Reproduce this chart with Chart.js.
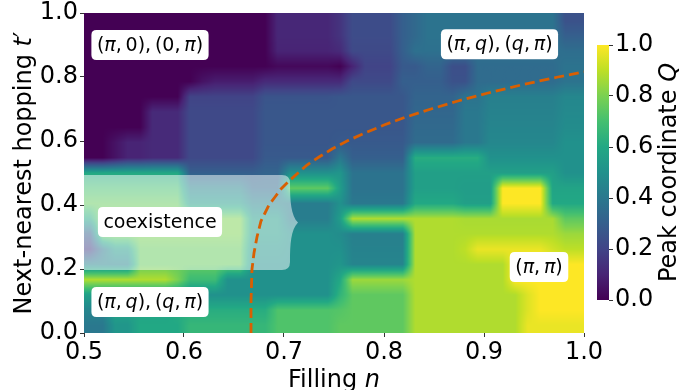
<!DOCTYPE html>
<html>
<head>
<meta charset="utf-8">
<script src="https://cdn.jsdelivr.net/npm/chart.js@4.4.1/dist/chart.umd.min.js"></script>
<style>
  html, body { margin: 0; padding: 0; background: #ffffff; }
  #wrap { position: relative; width: 689px; height: 390px; overflow: hidden; }
  #main { position: absolute; left: 0; top: 0; }
  #bar { position: absolute; left: 590px; top: 0; }
</style>
</head>
<body>
<div id="wrap">
  <canvas id="main" width="689" height="390"></canvas>
  <canvas id="bar" width="99" height="390"></canvas>
</div>
<script>
// Axis ranges and ticks
const fillingRange = [0.5, 1.0];
const hoppingRange = [0.0, 1.0];
const fillingTicks = [0.5, 0.6, 0.7, 0.8, 0.9, 1.0];
const hoppingTicks = [0.0, 0.2, 0.4, 0.6, 0.8, 1.0];
const colorTicks = [0.0, 0.2, 0.4, 0.6, 0.8, 1.0];

// Peak coordinate Q on the (n, t') grid; first row is t' = 1, last row is t' = 0,
// columns run from n = 0.5 to n = 1.0
const peakQ = [
  [0,0,0,0,0,0,0,0,0,0, 0,0,0,0,0,.11,.11,.11,.11,.11, .15,.23,.23,.23,.23,.30,.34,.38,.38,.38, .38,.38,.38,.38,.38,.38,.38,.38,.25,.25],
  [0,0,0,0,0,0,0,0,0,0, 0,0,0,0,0,.11,.11,.11,.11,.11, .15,.23,.23,.23,.23,.30,.34,.38,.38,.38, .38,.38,.38,.38,.38,.38,.38,.38,.30,.30],
  [0,0,0,0,0,0,0,0,0,0, 0,0,0,0,0,.10,.10,.10,.10,.10, .12,.22,.22,.22,.22,.30,.37,.37,.37,.37, .37,.37,.37,.37,.37,.37,.37,.37,.36,.36],
  [0,0,0,0,0,0,0,0,0,0, 0,0,0,0,0,.02,.02,.02,.02,.02, 0,.10,.20,.20,.20,.28,.28,.32,.32,.24, .24,.35,.35,.35,.35,.35,.35,.35,.38,.38],
  [0,0,0,0,0,0,0,0,0,.05, .08,.08,.08,.08,.12,.12,.12,.12,.12,.12, .12,.22,.22,.22,.22,.30,.30,.30,.30,.25, .25,.35,.35,.35,.35,.35,.35,.35,.38,.38],
  [0,0,0,0,0,0,0,0,.20,.20, .20,.20,.20,.20,.26,.26,.26,.26,.26,.26, .27,.27,.27,.27,.27,.27,.32,.32,.32,.32, .38,.38,.43,.43,.43,.43,.43,.43,.46,.46],
  [0,0,0,0,0,.12,.12,.12,.22,.22, .22,.22,.22,.22,.27,.27,.27,.27,.27,.27, .27,.27,.27,.27,.27,.27,.33,.33,.33,.33, .40,.40,.44,.44,.44,.44,.44,.44,.47,.47],
  [0,0,0,0,0,.12,.12,.12,.22,.22, .22,.22,.22,.22,.27,.27,.27,.27,.27,.27, .27,.27,.27,.27,.27,.27,.34,.34,.34,.34, .40,.40,.45,.45,.45,.45,.45,.45,.48,.48],
  [0,0,.05,.10,.10,.12,.12,.12,.22,.22, .22,.22,.22,.22,.27,.27,.27,.27,.27,.27, .28,.28,.28,.28,.28,.28,.35,.35,.35,.35, .40,.40,.46,.46,.46,.46,.46,.46,.50,.50],
  [0,0,.05,.10,.10,.12,.12,.12,.22,.22, .22,.22,.22,.22,.28,.28,.28,.28,.28,.28, .40,.30,.30,.30,.30,.30,.62,.62,.62,.62, .62,.62,.50,.50,.50,.50,.50,.50,.50,.50],
  [.60,.60,.60,.60,.60,.60,.60,.60,.30,.30, .30,.30,.30,.30,.32,.32,.50,.50,.50,.50, .52,.38,.38,.38,.38,.38,.56,.56,.56,.56, .56,.56,.56,.56,.56,.56,.56,.56,.50,.50],
  [.70,.70,.70,.70,.70,.70,.70,.70,.45,.45, .45,.45,.45,.35,.35,.35,.75,.75,.75,.75, .55,.38,.38,.38,.38,.38,.56,.56,.56,.56, .55,.55,.55,1,1,1,1,.58,.58,.58],
  [.76,.76,.76,.76,.76,.76,.76,.76,.55,.55, .55,.55,.55,.45,.45,.45,.42,.42,.42,.42, .50,.40,.40,.40,.40,.40,.60,.60,.60,.60, .56,.56,.56,1,1,1,1,.60,.60,.60],
  [.60,.80,.80,.80,.80,.80,.80,.80,.80,.80, .80,.80,.80,.55,.55,.55,.42,.42,.42,.42, .55,.88,.88,.88,.88,.88,.88,.88,.88,.88, .87,.87,.87,.87,.87,.87,.87,.87,.75,.75],
  [.30,.80,.80,.80,.80,.80,.80,.80,.80,.80, .80,.80,.80,.55,.55,.55,.50,.50,.50,.50, .48,.43,.43,.43,.43,.43,.88,.88,.88,.88, .88,.88,.88,.88,.88,.88,.88,.88,.85,.85],
  [.18,.40,.55,.55,.76,.76,.76,.76,.76,.76, .76,.76,.76,.52,.52,.52,.50,.50,.50,.50, .50,.44,.44,.44,.44,.44,.88,.88,.88,.88, .90,.97,.97,.97,.97,.97,.97,.93,.90,.90],
  [.45,.45,.45,.45,.76,.76,.76,.76,.76,.76, .76,.76,.76,.50,.50,.50,.50,.50,.50,.50, .52,.45,.45,.45,.45,.45,.88,.88,.88,.88, .88,.88,.88,.88,1,1,1,1,1,1],
  [.88,.88,.88,.88,.88,.88,.88,.80,.68,.68, .68,.50,.50,.50,.50,.50,.50,.50,.50,.50, .60,.85,.85,.85,.85,.85,.88,.88,.88,.88, .88,.88,.88,.88,1,1,1,1,1,1],
  [.56,.56,.56,.56,.56,.56,.56,.56,.50,.50, .50,.50,.50,.50,.50,.50,.50,.50,.50,.50, .65,.75,.75,.75,.75,.75,.88,.88,.88,.88, .88,.88,.88,.88,.88,.95,1,1,1,1],
  [.45,.45,.58,.58,.58,.58,.58,.62,.62,.62, .62,.62,.62,.62,.62,.72,.72,.72,.72,.72, .73,.75,.75,.75,.75,.75,.88,.88,.88,.88, .88,.88,.88,.88,.88,.95,1,1,1,1],
  [.40,.40,.52,.52,.60,.60,.60,.60,.66,.66, .66,.66,.66,.66,.66,.72,.72,.72,.72,.72, .75,.75,.75,.75,.75,.75,.88,.88,.88,.88, .88,.88,.88,.88,.88,.97,.97,.97,.97,.97]
];

// Phase boundary (dashed curve)
const boundaryN = [0.667, 0.667, 0.668, 0.670, 0.673, 0.677, 0.681, 0.685, 0.691, 0.697, 0.705, 0.714, 0.723, 0.735, 0.748, 0.763, 0.781, 0.800, 0.822, 0.847, 0.874, 0.904, 0.937, 0.974, 1.000];
const boundaryT = [0.000, 0.100, 0.200, 0.250, 0.300, 0.350, 0.375, 0.400, 0.425, 0.450, 0.475, 0.500, 0.525, 0.550, 0.575, 0.600, 0.625, 0.650, 0.675, 0.700, 0.725, 0.750, 0.775, 0.800, 0.816];

// Coexistence band in data units
const coexistence = { nLeft: 0.48, nRight: 0.706, nTip: 0.714, tBottom: 0.197, tTop: 0.494, tTip: 0.345 };

// Region annotations: [text, italic] runs, placed at (n, t')
const regionNotes = [
  { runs: [['(',0],['π',1],[',\u20090),\u2009(0,\u2009',0],['π',1],[')',0]], n: 0.566, t: 0.900 },
  { runs: [['(',0],['π',1],[',\u2009',0],['q',1],['),\u2009(',0],['q',1],[',\u2009',0],['π',1],[')',0]], n: 0.9155, t: 0.902 },
  { runs: [['coexistence',0]], n: 0.576, t: 0.347 },
  { runs: [['(',0],['π',1],[',\u2009',0],['q',1],['),\u2009(',0],['q',1],[',\u2009',0],['π',1],[')',0]], n: 0.566, t: 0.097 },
  { runs: [['(',0],['π',1],[',\u2009',0],['π',1],[')',0]], n: 0.955, t: 0.206 }
];

const FAMILY = '"DejaVu Sans", sans-serif';
const VIRIDIS = [[68,1,84],[72,36,117],[65,68,135],[53,95,141],[42,120,142],[33,145,140],[34,168,132],[68,191,112],[122,209,81],[189,223,38],[253,231,37]];

function viridis(v) {
  v = Math.min(1, Math.max(0, v));
  const p = v * 10, i = Math.min(9, Math.floor(p)), f = p - i;
  const a = VIRIDIS[i], b = VIRIDIS[i + 1];
  return [a[0] + (b[0] - a[0]) * f, a[1] + (b[1] - a[1]) * f, a[2] + (b[2] - a[2]) * f];
}

function fontOf(size, italic) { return (italic ? 'italic ' : '') + size + 'px ' + FAMILY; }
function runsWidth(ctx, runs, size) {
  let w = 0;
  for (const [t, it] of runs) { ctx.font = fontOf(size, it); w += ctx.measureText(t).width; }
  return w;
}
function drawRuns(ctx, runs, size, x, y) {
  let cx = x;
  ctx.textAlign = 'left';
  ctx.textBaseline = 'alphabetic';
  for (const [t, it] of runs) {
    ctx.font = fontOf(size, it);
    ctx.fillText(t, cx, y);
    cx += ctx.measureText(t).width;
  }
}
function roundRect(ctx, x, y, w, h, r) {
  ctx.beginPath();
  ctx.moveTo(x + r, y);
  ctx.lineTo(x + w - r, y); ctx.quadraticCurveTo(x + w, y, x + w, y + r);
  ctx.lineTo(x + w, y + h - r); ctx.quadraticCurveTo(x + w, y + h, x + w - r, y + h);
  ctx.lineTo(x + r, y + h); ctx.quadraticCurveTo(x, y + h, x, y + h - r);
  ctx.lineTo(x, y + r); ctx.quadraticCurveTo(x, y, x + r, y);
  ctx.closePath();
}

// Render the grid with bilinear interpolation of Q, then colour-map each pixel
let tileCache = null;
function renderTile(W, H) {
  if (tileCache && tileCache.width === W && tileCache.height === H) return tileCache;
  const rows = peakQ.length, cols = peakQ[0].length;
  const c = document.createElement('canvas');
  c.width = W; c.height = H;
  const g = c.getContext('2d');
  const img = g.createImageData(W, H);
  for (let py = 0; py < H; py++) {
    let v = (py + 0.5) / H * rows - 0.5;
    v = Math.max(0, Math.min(rows - 1, v));
    const r0 = Math.min(rows - 2, Math.floor(v)), fv = v - r0;
    for (let px = 0; px < W; px++) {
      let u = (px + 0.5) / W * cols - 0.5;
      u = Math.max(0, Math.min(cols - 1, u));
      const c0 = Math.min(cols - 2, Math.floor(u)), fu = u - c0;
      const q = peakQ[r0][c0] * (1 - fu) * (1 - fv) + peakQ[r0][c0 + 1] * fu * (1 - fv)
              + peakQ[r0 + 1][c0] * (1 - fu) * fv + peakQ[r0 + 1][c0 + 1] * fu * fv;
      const [R, G, B] = viridis(q);
      const o = (py * W + px) * 4;
      img.data[o] = R; img.data[o + 1] = G; img.data[o + 2] = B; img.data[o + 3] = 255;
    }
  }
  g.putImageData(img, 0, 0);
  tileCache = c;
  return c;
}

const heatmapPlugin = {
  id: 'heatmap',
  beforeDatasetsDraw(chart) {
    const { ctx, chartArea: area, scales: { x, y } } = chart;
    const x0 = x.getPixelForValue(fillingRange[0]), x1 = x.getPixelForValue(fillingRange[1]);
    const y0 = y.getPixelForValue(hoppingRange[1]), y1 = y.getPixelForValue(hoppingRange[0]);
    const W = Math.round(x1 - x0), H = Math.round(y1 - y0);
    ctx.save();
    ctx.beginPath(); ctx.rect(area.left, area.top, area.right - area.left, area.bottom - area.top); ctx.clip();
    ctx.drawImage(renderTile(W, H), x0, y0, W, H);

    // translucent coexistence band with a brace-shaped right edge
    const c = coexistence, r = 8;
    const xl = x.getPixelForValue(c.nLeft), xr = x.getPixelForValue(c.nRight), xt = x.getPixelForValue(c.nTip);
    const yt = y.getPixelForValue(c.tTop), yb = y.getPixelForValue(c.tBottom), ym = y.getPixelForValue(c.tTip);
    ctx.beginPath();
    ctx.moveTo(xl, yt);
    ctx.lineTo(xr - r, yt);
    ctx.quadraticCurveTo(xr, yt, xr, yt + r);
    ctx.bezierCurveTo(xr, yt + 0.55 * (ym - yt), xr + 1, ym - 7, xt, ym);
    ctx.bezierCurveTo(xr + 1, ym + 7, xr, yb - 0.55 * (yb - ym), xr, yb - r);
    ctx.quadraticCurveTo(xr, yb, xr - r, yb);
    ctx.lineTo(xl, yb);
    ctx.closePath();
    ctx.fillStyle = 'rgba(255,255,255,0.5)';
    ctx.fill();
    ctx.restore();
  },
  afterDatasetsDraw(chart) {
    const { ctx, scales: { x, y } } = chart;
    const size = 19;
    ctx.save();
    for (const note of regionNotes) {
      const w = runsWidth(ctx, note.runs, size);
      const cx = x.getPixelForValue(note.n), cy = y.getPixelForValue(note.t);
      const bw = w + 11, bh = 30;
      roundRect(ctx, cx - bw / 2, cy - bh / 2, bw, bh, 5);
      ctx.fillStyle = '#ffffff';
      ctx.fill();
      ctx.fillStyle = '#000000';
      drawRuns(ctx, note.runs, size, cx - w / 2, cy + 6);
    }
    ctx.restore();
  },
  afterDraw(chart) {
    const { ctx, chartArea: area } = chart;
    const size = 24;
    ctx.save();
    ctx.fillStyle = '#000000';
    const xr = [['Filling ', 0], ['n', 1]];
    const wx = runsWidth(ctx, xr, size);
    drawRuns(ctx, xr, size, (area.left + area.right) / 2 - wx / 2, 387);
    const yr = [['Next-nearest hopping ', 0], ['t', 1], ['′', 0]];
    const wy = runsWidth(ctx, yr, size);
    ctx.translate(31, (area.top + area.bottom) / 2);
    ctx.rotate(-Math.PI / 2);
    drawRuns(ctx, yr, size, -wy / 2, 0);
    ctx.restore();
  }
};

const tickFont = { family: FAMILY, size: 24 };

new Chart(document.getElementById('main'), {
  type: 'scatter',
  data: {
    datasets: [{
      data: boundaryN.map((n, i) => ({ x: n, y: boundaryT[i] })),
      showLine: true,
      borderColor: '#d95f02',
      borderWidth: 2.8,
      borderDash: [10, 5],
      pointRadius: 0,
      tension: 0,
      fill: false
    }]
  },
  options: {
    responsive: false,
    animation: false,
    devicePixelRatio: 1,
    layout: { padding: { left: 0, top: 13, right: 105, bottom: 0 } },
    plugins: { legend: { display: false }, tooltip: { enabled: false } },
    scales: {
      x: {
        type: 'linear', min: fillingRange[0], max: fillingRange[1],
        afterBuildTicks: s => { s.ticks = fillingTicks.map(v => ({ value: v })); },
        ticks: { font: tickFont, color: '#000', padding: 1, maxRotation: 0, autoSkip: false, callback: v => Number(v).toFixed(1) },
        grid: { drawOnChartArea: false, drawTicks: true, tickLength: 4, color: '#333' },
        border: { display: false },
        afterFit: s => { s.height = 57; s.paddingLeft = 0; s.paddingRight = 0; }
      },
      y: {
        type: 'linear', min: hoppingRange[0], max: hoppingRange[1],
        afterBuildTicks: s => { s.ticks = hoppingTicks.map(v => ({ value: v })); },
        ticks: { font: tickFont, color: '#000', padding: 2, autoSkip: false, callback: v => Number(v).toFixed(1) },
        grid: { drawOnChartArea: false, drawTicks: true, tickLength: 4, color: '#333' },
        border: { display: false },
        afterFit: s => { s.width = 84; s.paddingTop = 0; s.paddingBottom = 0; }
      }
    }
  },
  plugins: [heatmapPlugin]
});

// Colour bar
const colorbarPlugin = {
  id: 'colorbar',
  beforeDatasetsDraw(chart) {
    const { ctx, chartArea: a, scales: { y } } = chart;
    const g = ctx.createLinearGradient(0, y.getPixelForValue(0), 0, y.getPixelForValue(1));
    for (let k = 0; k < VIRIDIS.length; k++) {
      const [R, G, B] = VIRIDIS[k];
      g.addColorStop(k / (VIRIDIS.length - 1), `rgb(${R},${G},${B})`);
    }
    ctx.save();
    ctx.fillStyle = g;
    ctx.fillRect(a.left, a.top, a.right - a.left, a.bottom - a.top);
    ctx.restore();
  },
  afterDraw(chart) {
    const { ctx, chartArea: a } = chart;
    const runs = [['Peak coordinate ', 0], ['Q', 1]];
    const size = 24;
    ctx.save();
    ctx.fillStyle = '#000000';
    const w = runsWidth(ctx, runs, size);
    ctx.translate(86, (a.top + a.bottom) / 2);
    ctx.rotate(-Math.PI / 2);
    drawRuns(ctx, runs, size, -w / 2, 0);
    ctx.restore();
  }
};

new Chart(document.getElementById('bar'), {
  type: 'scatter',
  data: { datasets: [] },
  options: {
    responsive: false,
    animation: false,
    devicePixelRatio: 1,
    layout: { padding: { left: 7, top: 45, right: 0, bottom: 90 } },
    plugins: { legend: { display: false }, tooltip: { enabled: false } },
    scales: {
      x: { display: false, min: 0, max: 1 },
      y: {
        position: 'right', min: 0, max: 1,
        afterBuildTicks: s => { s.ticks = colorTicks.map(v => ({ value: v })); },
        ticks: { font: tickFont, color: '#000', padding: 2, autoSkip: false, callback: v => Number(v).toFixed(1) },
        grid: { drawOnChartArea: false, drawTicks: true, tickLength: 4, color: '#333' },
        border: { display: false },
        afterFit: s => { s.width = 80; s.paddingTop = 0; s.paddingBottom = 0; }
      }
    }
  },
  plugins: [colorbarPlugin]
});
</script>
</body>
</html>
